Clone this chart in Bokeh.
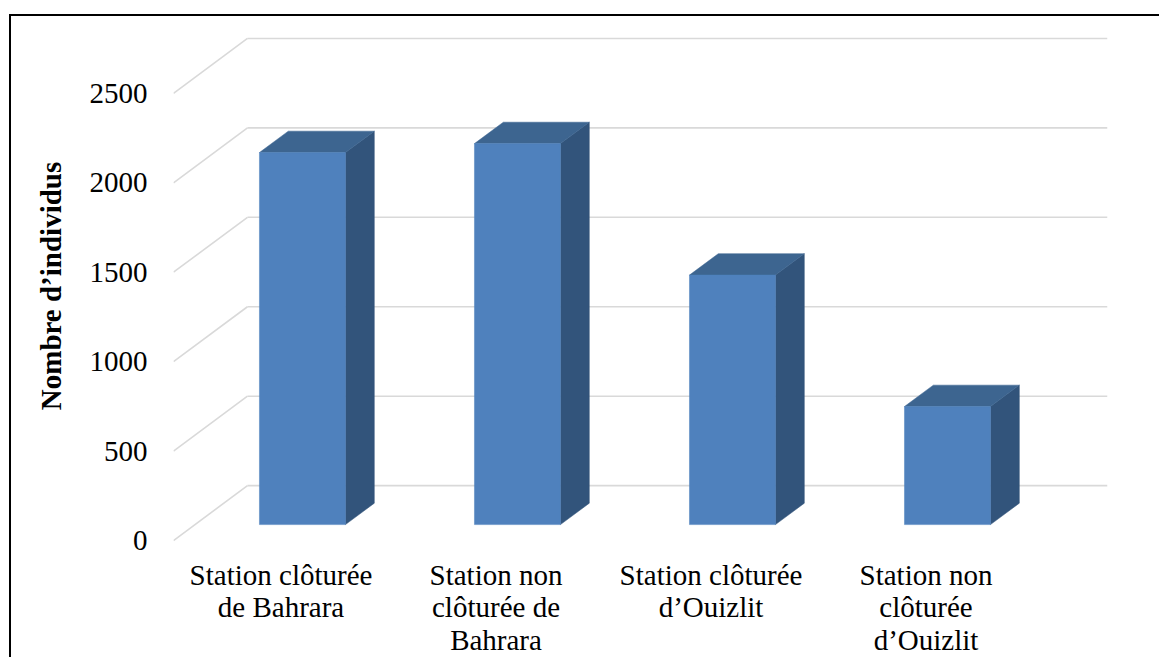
from bokeh.plotting import figure
from bokeh.models import Range1d, FixedTicker
from bokeh.embed import file_html
from bokeh.resources import INLINE

# ---- data ----
categories = [
    "Station clôturée\nde Bahrara",
    "Station non\nclôturée de\nBahrara",
    "Station clôturée\nd’Ouizlit",
    "Station non\nclôturée\nd’Ouizlit",
]
counts = [2080, 2130, 1395, 660]
y_ticks = [0, 500, 1000, 1500, 2000, 2500]
y_title = "Nombre d’individus"

# ---- oblique "3D" projection parameters (styling) ----
DEPTH_X = 0.344     # x shift (category units) for full depth
DEPTH_Y = 307.0     # y shift (value units) for full depth
D_FRONT = 0.29      # depth of bar front face
D_BACK = 0.68       # depth of bar back face
HALF_W = 0.2        # half bar width (category units)

FRONT_COL = "#4F81BD"
SIDE_COL = "#32547B"
TOP_COL = "#3D6590"
GRID_COL = "#D9D9D9"
FONT = "Liberation Serif"

p = figure(
    width=1150, height=643,
    x_range=Range1d(0, len(categories) + DEPTH_X),
    y_range=Range1d(-11, 2857),
    output_backend="svg", toolbar_location=None,
    min_border_left=162, min_border_right=54,
    min_border_top=13, min_border_bottom=116,
)
p.styles = {
    "border-left": "2px solid black",
    "border-top": "2px solid black",
    "margin-left": "9px",
    "margin-top": "14px",
}
p.outline_line_color = None
p.grid.visible = False
p.background_fill_color = "white"
p.border_fill_color = "white"

# ---- gridlines: back wall horizontals and side-wall diagonals ----
n = len(categories)
p.segment(x0=[DEPTH_X] * len(y_ticks), y0=[t + DEPTH_Y for t in y_ticks],
          x1=[n + DEPTH_X] * len(y_ticks), y1=[t + DEPTH_Y for t in y_ticks],
          line_color=GRID_COL, line_width=1.6)
p.segment(x0=[0] * len(y_ticks), y0=y_ticks,
          x1=[DEPTH_X] * len(y_ticks), y1=[t + DEPTH_Y for t in y_ticks],
          line_color=GRID_COL, line_width=1.6)

# ---- bars ----
y0 = D_FRONT * DEPTH_Y
dx = (D_BACK - D_FRONT) * DEPTH_X
dy = (D_BACK - D_FRONT) * DEPTH_Y
xc = [i + 0.5 + D_FRONT * DEPTH_X for i in range(n)]
xl = [c - HALF_W for c in xc]
xr = [c + HALF_W for c in xc]

side_xs = [[r, r + dx, r + dx, r] for r in xr]
side_ys = [[y0, y0 + dy, y0 + dy + v, y0 + v] for v in counts]
top_xs = [[l, r, r + dx, l + dx] for l, r in zip(xl, xr)]
top_ys = [[y0 + v, y0 + v, y0 + v + dy, y0 + v + dy] for v in counts]

p.patches(side_xs, side_ys, fill_color=SIDE_COL, line_color=SIDE_COL, line_width=0.5)
p.patches(top_xs, top_ys, fill_color=TOP_COL, line_color=TOP_COL, line_width=0.5)
p.quad(left=xl, right=xr, bottom=[y0] * n, top=[y0 + v for v in counts],
       fill_color=FRONT_COL, line_color=FRONT_COL, line_width=0.5)

# ---- y axis (front plane) ----
yax = p.yaxis[0]
yax.ticker = FixedTicker(ticks=y_ticks)
yax.axis_line_color = None
yax.major_tick_line_color = None
yax.minor_tick_line_color = None
yax.major_tick_out = 0
yax.major_tick_in = 0
yax.major_label_standoff = 26
yax.major_label_text_font = FONT
yax.major_label_text_font_size = "29px"
yax.major_label_text_color = "black"
yax.axis_label = y_title
yax.axis_label_text_font = FONT
yax.axis_label_text_font_size = "29px"
yax.axis_label_text_font_style = "bold"
yax.axis_label_text_color = "black"
yax.axis_label_standoff = 20

# ---- x axis (category labels on front plane) ----
xax = p.xaxis[0]
centers = [i + 0.5 for i in range(n)]
xax.ticker = FixedTicker(ticks=centers)
xax.major_label_overrides = {c: lab for c, lab in zip(centers, categories)}
xax.axis_line_color = None
xax.major_tick_line_color = None
xax.minor_tick_line_color = None
xax.major_tick_out = 0
xax.major_tick_in = 0
xax.major_label_standoff = 16
xax.major_label_text_font = FONT
xax.major_label_text_font_size = "29px"
xax.major_label_text_line_height = 1.03
xax.major_label_text_color = "black"
xax.major_label_orientation = "horizontal"

open("out.html", "w").write(file_html(p, INLINE))
